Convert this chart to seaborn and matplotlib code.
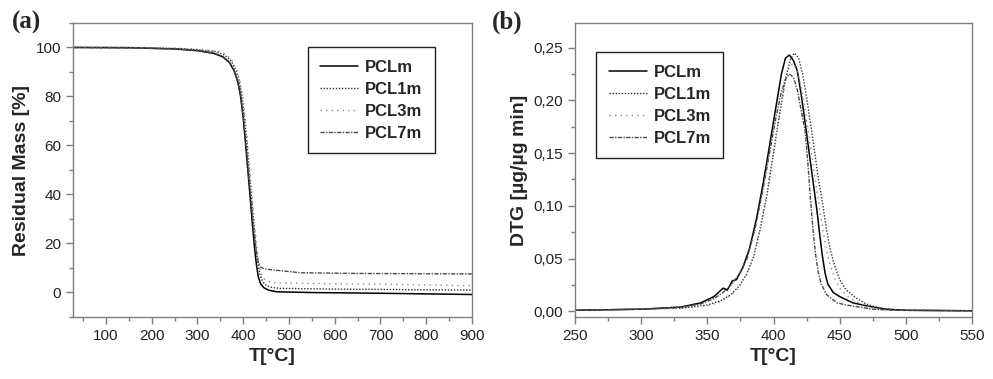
import numpy as np
import seaborn as sns
from matplotlib import pyplot as plt
from matplotlib.ticker import MultipleLocator, FuncFormatter

# TGA: residual mass [%] vs temperature
tga_T_m = [30, 150, 250, 300, 335, 355, 370, 380, 388, 394, 400, 405, 410, 415, 420, 425, 429, 433, 438, 445, 455, 473, 550, 700, 900]
tga_m_m = [100, 99.9, 99.4, 98.7, 97.6, 96.2, 93.8, 90.5, 86, 80.5, 71, 61, 50, 39, 28, 17.5, 11, 6.2, 3.3, 1.8, 0.8, 0.1, -0.2, -0.5, -1.0]

tga_T_1m = [30, 150, 250, 300, 340, 360, 374, 384, 391, 397, 403, 408, 413, 418, 423, 428, 432, 436, 442, 450, 462, 480, 600, 750, 900]
tga_m_1m = [100, 100, 99.6, 99.1, 98.3, 96.8, 94.4, 90.7, 86.5, 80.5, 71, 61, 50, 39, 28, 18, 12, 7.5, 4.5, 2.8, 1.9, 1.5, 1.2, 1.0, 0.8]

tga_T_3m = [30, 150, 250, 300, 345, 363, 376, 386, 393, 399, 404, 409, 414, 419, 424, 429, 433, 437, 443, 452, 465, 480, 600, 750, 900]
tga_m_3m = [100, 100, 99.7, 99.3, 98.5, 97.1, 94.6, 90.7, 86.2, 80, 71.5, 61.5, 50.5, 40, 29.5, 20, 13.5, 8.5, 5.8, 4.5, 3.9, 3.7, 3.4, 3.1, 2.6]

tga_T_7m = [30, 150, 250, 300, 335, 355, 370, 380, 388, 394, 400, 405, 410, 415, 420, 425, 429, 433, 437, 445, 460, 473, 524, 650, 900]
tga_m_7m = [100, 99.8, 99.4, 98.8, 97.8, 96.4, 94.0, 90.7, 86.2, 80.5, 71.5, 62, 51.5, 41, 31, 22, 16, 12, 10.3, 9.6, 9.1, 8.9, 7.9, 7.6, 7.4]

# DTG [ug/ug min] vs temperature
dtg_T_m = [250, 300, 330, 345, 355, 362, 365, 369, 372, 377, 382, 387, 392, 397, 402, 406, 409, 412, 415, 418, 421, 424, 427, 430, 433, 435, 437, 439, 441, 445, 450, 460, 471, 485, 500, 550]
dtg_d_m = [.001, .002, .004, .008, .014, .022, .020, .029, .030, .042, .060, .087, .120, .157, .195, .225, .240, .243, .238, .228, .205, .178, .150, .122, .094, .072, .052, .036, .026, .018, .014, .008, .005, .002, .001, .0005]

dtg_T_1m = [250, 300, 330, 350, 360, 368, 374, 380, 385, 390, 395, 400, 405, 409, 413, 416, 419, 422, 425, 428, 431, 434, 437, 440, 443, 446, 450, 455, 462, 470, 480, 495, 550]
dtg_d_1m = [.001, .002, .003, .006, .010, .016, .024, .036, .052, .078, .110, .150, .190, .220, .240, .245, .240, .225, .203, .178, .152, .125, .103, .078, .058, .044, .030, .020, .013, .007, .003, .001, .0005]

dtg_T_3m = [250, 300, 330, 350, 360, 368, 374, 380, 385, 390, 395, 400, 405, 409, 412, 415, 418, 421, 424, 427, 430, 433, 436, 439, 442, 446, 450, 456, 463, 470, 480, 495, 550]
dtg_d_3m = [.001, .002, .003, .005, .009, .015, .023, .035, .052, .080, .113, .152, .190, .218, .232, .235, .228, .212, .190, .165, .138, .112, .088, .065, .047, .032, .022, .014, .009, .005, .002, .001, .0005]

dtg_T_7m = [250, 300, 330, 345, 355, 362, 368, 374, 380, 386, 392, 397, 402, 406, 409, 412, 415, 418, 421, 424, 426, 428, 430, 432, 434, 436, 440, 448, 455, 465, 475, 490, 550]
dtg_d_7m = [.001, .002, .004, .007, .012, .018, .025, .035, .050, .078, .115, .150, .185, .208, .220, .225, .222, .210, .190, .170, .140, .105, .075, .052, .036, .026, .016, .008, .006, .004, .002, .001, .0005]

labels = ["PCLm", "PCL1m", "PCL3m", "PCL7m"]
colors = ["#000000", "#333333", "#8a8a8a", "#4a4a4a"]
dashes = [(None, None), (1, 1.2), (1, 3), (3, 1, 1, 1)]
widths = [1.1, 1.0, 1.0, 1.0]

sns.set_style("ticks")
plt.rcParams['font.family'] = ['Liberation Sans', 'DejaVu Sans']
plt.rcParams['axes.edgecolor'] = '#7f7f7f'
plt.rcParams['xtick.color'] = '#7f7f7f'
plt.rcParams['ytick.color'] = '#7f7f7f'
plt.rcParams['xtick.labelcolor'] = '#222222'
plt.rcParams['ytick.labelcolor'] = '#222222'

fig = plt.figure(figsize=(9.93, 3.79), dpi=100)
ax1 = fig.add_axes([73 / 993, 62 / 379, 399 / 993, 294 / 379])
ax2 = fig.add_axes([575 / 993, 62 / 379, 397 / 993, 294 / 379])


def draw(ax, series):
    for (x, y), lab, c, d, w in zip(series, labels, colors, dashes, widths):
        kw = {} if d[0] is None else {"dashes": d}
        sns.lineplot(x=x, y=y, ax=ax, color=c, lw=w, label=lab,
                     estimator=None, sort=False, **kw)


draw(ax1, [(tga_T_m, tga_m_m), (tga_T_1m, tga_m_1m), (tga_T_3m, tga_m_3m), (tga_T_7m, tga_m_7m)])
draw(ax2, [(dtg_T_m, dtg_d_m), (dtg_T_1m, dtg_d_1m), (dtg_T_3m, dtg_d_3m), (dtg_T_7m, dtg_d_7m)])

ax1.set_xlim(28, 900)
ax1.set_ylim(-10.2, 110)
ax1.xaxis.set_major_locator(MultipleLocator(100))
ax1.xaxis.set_minor_locator(MultipleLocator(50))
ax1.yaxis.set_major_locator(MultipleLocator(20))
ax1.yaxis.set_minor_locator(MultipleLocator(10))
ax1.set_ylabel("Residual Mass [%]", fontsize=14, fontweight='bold', labelpad=4)

ax2.set_xlim(250, 550)
ax2.set_ylim(-0.0054, 0.2734)
ax2.xaxis.set_major_locator(MultipleLocator(50))
ax2.xaxis.set_minor_locator(MultipleLocator(25))
ax2.yaxis.set_major_locator(MultipleLocator(0.05))
ax2.yaxis.set_minor_locator(MultipleLocator(0.025))
ax2.yaxis.set_major_formatter(FuncFormatter(lambda v, p: f"{v:.2f}".replace(".", ",")))
ax2.set_ylabel("DTG [\u00b5g/\u00b5g min]", fontsize=14, fontweight='bold', labelpad=4)

for ax in (ax1, ax2):
    ax.set_xlabel("T[\u00b0C]", fontsize=14, fontweight='bold', labelpad=4)
    ax.tick_params(which='major', length=5, width=1, labelsize=11, direction='out')
    ax.tick_params(which='minor', length=3, width=1, direction='out')
    for s in ax.spines.values():
        s.set_visible(True)
        s.set_linewidth(1.0)

leg_kw = dict(frameon=True, fancybox=False, edgecolor='#222222', framealpha=1,
              handlelength=2.3, handletextpad=0.4, labelspacing=0.42,
              borderpad=0.75, borderaxespad=0, prop={'weight': 'bold', 'size': 12})
leg1 = ax1.legend(loc='upper right', bbox_to_anchor=(0.907, 0.918), **leg_kw)
leg2 = ax2.legend(loc='upper left', bbox_to_anchor=(0.053, 0.901), **leg_kw)
for leg in (leg1, leg2):
    leg.get_frame().set_linewidth(1.0)

fig.text(12 / 993, 1 - 29 / 379, "(a)", fontsize=18, fontweight='bold', family='Liberation Serif')
fig.text(492 / 993, 1 - 29 / 379, "(b)", fontsize=18, fontweight='bold', family='Liberation Serif')

fig.savefig("out.png", dpi=100)
